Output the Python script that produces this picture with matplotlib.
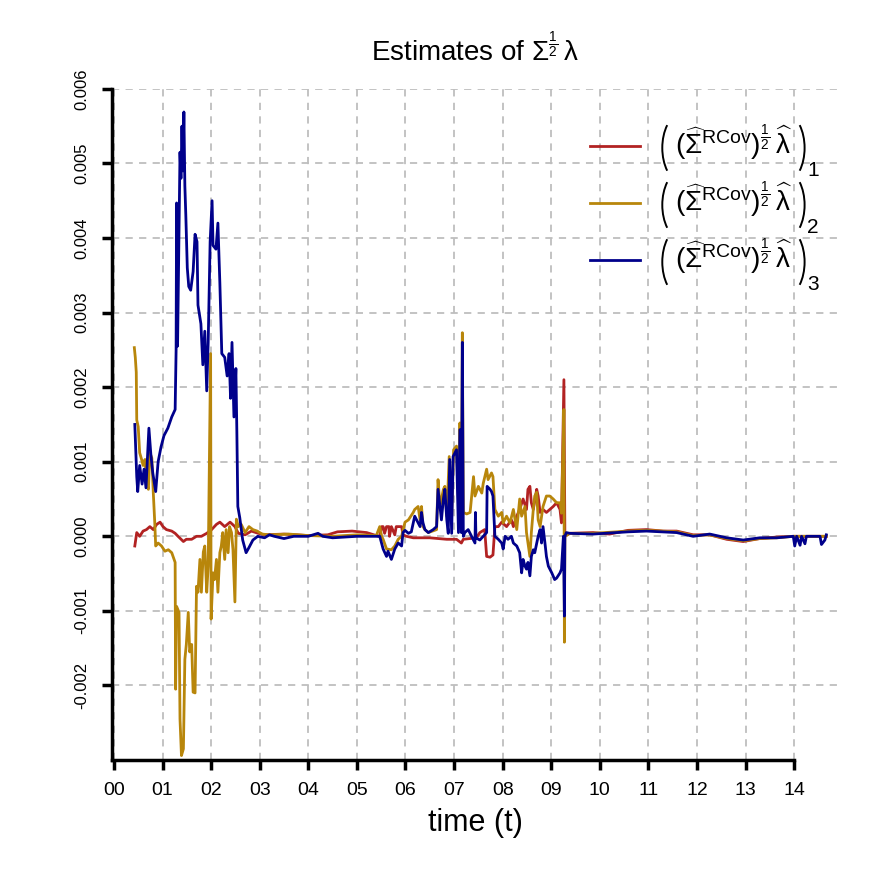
import numpy as np
import matplotlib
matplotlib.use("Agg")
import matplotlib.pyplot as plt
from matplotlib.patches import Arc

plt.rcParams['font.family'] = ['Liberation Sans', 'DejaVu Sans']
plt.rcParams['mathtext.fontset'] = 'custom'
plt.rcParams['mathtext.rm'] = 'Liberation Sans'
plt.rcParams['mathtext.it'] = 'Liberation Sans:italic'
plt.rcParams['mathtext.bf'] = 'Liberation Sans:bold'

# values: time in hours, estimates in units of 1e-3
red_t = [0.43, 0.47, 0.53, 0.60, 0.67, 0.74, 0.81, 0.88, 0.95, 1.01, 1.08, 1.19, 1.26, 1.32, 1.43,
         1.49, 1.60, 1.70, 1.80, 1.91, 2.01, 2.11, 2.18, 2.28, 2.39, 2.49, 2.56, 2.70, 2.83, 2.97,
         3.11, 3.50, 4.00, 4.40, 4.60, 4.90, 5.20, 5.45, 5.47, 5.51, 5.54, 5.57, 5.61, 5.66, 5.67,
         5.71, 5.78, 5.81, 5.92, 5.95, 6.02, 6.16, 6.50, 6.85, 7.05, 7.15, 7.19, 7.46, 7.53, 7.63,
         7.67, 7.74, 7.80, 7.84, 7.91, 7.98, 8.08, 8.18, 8.22, 8.29, 8.35, 8.42, 8.49, 8.52, 8.56,
         8.59, 8.63, 8.70, 8.73, 8.77, 8.83, 8.90, 8.97, 9.04, 9.11, 9.18, 9.21, 9.26, 9.28, 9.38,
         9.86, 10.20, 10.58, 10.96, 11.30, 11.58, 11.92, 12.26, 12.61, 12.95, 13.29, 13.64, 13.98,
         14.30, 14.66]
red_v = [-0.13, 0.05, 0.00, 0.07, 0.09, 0.13, 0.09, 0.16, 0.19, 0.13, 0.09, 0.07, 0.04, 0.00, -0.07,
         -0.04, -0.04, 0.00, 0.00, 0.04, 0.09, 0.16, 0.19, 0.13, 0.19, 0.13, 0.04, 0.02, 0.07, 0.04,
         0.02, 0.03, 0.01, 0.02, 0.06, 0.07, 0.05, 0.00, 0.00, 0.13, 0.13, 0.04, 0.13, 0.13, 0.00,
         0.13, 0.02, 0.13, 0.13, 0.02, 0.00, -0.02, -0.02, -0.04, -0.04, -0.09, -0.04, -0.02, 0.05, 0.09,
         -0.27, -0.28, -0.25, 0.13, 0.13, 0.19, 0.13, 0.22, 0.13, 0.27, 0.36, 0.50, 0.36, 0.63, 0.67,
         0.45, 0.36, 0.63, 0.54, 0.32, 0.36, 0.32, 0.36, 0.40, 0.45, 0.36, 0.18, 2.10, 0.00, 0.04,
         0.05, 0.03, 0.08, 0.09, 0.07, 0.07, 0.02, 0.02, -0.04, -0.07, -0.03, -0.01, 0.00,
         0.00, 0.00]

yel_t = [0.42, 0.44, 0.46, 0.47, 0.50, 0.53, 0.57, 0.60, 0.64, 0.67, 0.71, 0.74, 0.78, 0.81, 0.84,
         0.86, 0.91, 0.98, 1.05, 1.12, 1.19, 1.26, 1.27, 1.29, 1.34, 1.36, 1.39, 1.43, 1.46, 1.49,
         1.53, 1.56, 1.60, 1.63, 1.67, 1.70, 1.73, 1.77, 1.80, 1.84, 1.87, 1.91, 1.94, 1.99, 2.00,
         2.04, 2.07, 2.11, 2.14, 2.18, 2.21, 2.24, 2.28, 2.31, 2.35, 2.38, 2.42, 2.45, 2.49, 2.52,
         2.56, 2.62, 2.70, 2.78, 2.86, 2.95, 3.05, 3.20, 3.60, 4.00, 4.50, 5.00, 5.40, 5.47, 5.51,
         5.54, 5.61, 5.71, 5.78, 5.85, 5.92, 5.99, 6.06, 6.16, 6.19, 6.26, 6.30, 6.33, 6.36, 6.40,
         6.47, 6.64, 6.67, 6.71, 6.78, 6.81, 6.85, 6.90, 6.95, 6.99, 7.05, 7.10, 7.12, 7.15, 7.17,
         7.19, 7.26, 7.33, 7.40, 7.43, 7.50, 7.57, 7.60, 7.67, 7.70, 7.77, 7.80, 7.84, 7.91, 7.98,
         8.01, 8.08, 8.15, 8.22, 8.29, 8.35, 8.39, 8.46, 8.49, 8.52, 8.56, 8.59, 8.63, 8.66, 8.70,
         8.73, 8.77, 8.83, 8.90, 8.97, 9.04, 9.11, 9.18, 9.21, 9.26, 9.27, 9.28, 9.38, 9.86, 10.58,
         10.96, 11.58, 11.92, 12.26, 12.61, 12.95, 13.29, 13.64, 13.98, 14.30, 14.66]
yel_v = [2.53, 2.40, 2.20, 1.56, 1.47, 1.12, 1.03, 0.95, 1.03, 0.72, 0.63, 1.12, 1.05, 0.59, 0.19,
         -0.13, -0.09, -0.13, -0.20, -0.18, -0.22, -0.35, -2.05, -0.94, -1.02, -2.45, -2.94, -2.85, -1.65, -1.45,
         -1.02, -1.55, -1.45, -2.09, -2.10, -0.67, -0.75, -0.31, -0.75, -0.21, -0.13, -0.75, -0.40, 2.45, -1.11,
         -0.49, -0.58, -0.31, -0.75, -0.22, -0.13, 0.05, -0.31, 0.09, -0.22, 0.13, 0.05, -0.18, -0.88, 0.23,
         0.13, 0.16, 0.05, 0.13, 0.09, 0.07, 0.03, 0.02, 0.03, 0.01, 0.00, 0.02, 0.01, 0.13, 0.00,
         -0.04, -0.17, -0.18, -0.13, -0.04, 0.00, 0.19, 0.22, 0.32, 0.36, 0.40, 0.22, 0.40, 0.13, 0.09,
         0.05, 0.09, 0.76, 0.40, 0.63, 0.67, 0.27, 1.07, 0.27, 1.16, 1.21, 0.27, 1.52, 0.27, 2.73,
         0.32, 0.30, 0.32, 0.80, 0.54, 0.67, 0.58, 0.71, 0.90, 0.76, 0.85, 0.80, 0.36, 0.27, 0.32,
         0.18, 0.27, 0.18, 0.36, 0.09, 0.50, 0.27, 0.40, 0.05, -0.09, -0.27, 0.05, 0.36, 0.54, 0.59,
         0.22, 0.13, 0.40, 0.54, 0.54, 0.50, 0.45, 0.45, 0.31, 1.70, -1.42, 0.00, 0.04, 0.04, 0.07,
         0.08, 0.06, 0.01, 0.02, -0.03, -0.06, -0.03, -0.02, 0.00, 0.00, 0.00]

blu_t = [0.43, 0.47, 0.49, 0.53, 0.58, 0.62, 0.66, 0.72, 0.76, 0.80, 0.86, 0.91, 0.97, 1.03, 1.11,
         1.19, 1.26, 1.28, 1.29, 1.31, 1.34, 1.36, 1.38, 1.40, 1.42, 1.44, 1.46, 1.48, 1.51, 1.54,
         1.58, 1.63, 1.67, 1.71, 1.73, 1.79, 1.83, 1.87, 1.91, 1.94, 1.98, 2.02, 2.04, 2.10, 2.14,
         2.18, 2.22, 2.28, 2.33, 2.37, 2.40, 2.43, 2.47, 2.51, 2.53, 2.55, 2.59, 2.65, 2.72, 2.78,
         2.86, 2.96, 3.10, 3.20, 3.30, 3.50, 3.70, 4.00, 4.20, 4.30, 4.50, 5.00, 5.47, 5.54, 5.61,
         5.64, 5.71, 5.78, 5.85, 5.92, 5.95, 5.99, 6.06, 6.12, 6.19, 6.26, 6.30, 6.33, 6.36, 6.40,
         6.47, 6.57, 6.64, 6.67, 6.71, 6.74, 6.78, 6.81, 6.85, 6.88, 6.91, 6.95, 6.98, 7.02, 7.05,
         7.09, 7.12, 7.15, 7.17, 7.19, 7.22, 7.29, 7.36, 7.43, 7.44, 7.45, 7.53, 7.60, 7.67, 7.68,
         7.74, 7.77, 7.80, 7.84, 7.91, 7.98, 8.01, 8.05, 8.11, 8.18, 8.22, 8.29, 8.35, 8.39, 8.42,
         8.46, 8.49, 8.52, 8.56, 8.59, 8.63, 8.66, 8.70, 8.73, 8.77, 8.80, 8.83, 8.87, 8.90, 8.94,
         9.01, 9.07, 9.11, 9.18, 9.21, 9.25, 9.27, 9.28, 9.31, 9.38, 9.86, 10.58, 10.96, 11.58, 11.92,
         12.26, 12.61, 12.95, 13.29, 13.64, 13.98, 14.01, 14.05, 14.12, 14.15, 14.22, 14.25, 14.53, 14.56, 14.63,
         14.66]
blu_v = [1.50, 0.80, 0.60, 0.95, 0.70, 0.90, 0.65, 1.45, 1.10, 0.85, 0.60, 1.00, 1.20, 1.35, 1.45,
         1.60, 1.70, 2.50, 4.47, 2.55, 4.10, 5.15, 4.80, 5.50, 4.90, 5.69, 4.70, 4.30, 3.60, 3.35,
         3.30, 3.55, 4.05, 3.95, 3.10, 2.85, 2.30, 2.75, 1.95, 2.60, 3.95, 4.50, 3.90, 3.85, 4.20,
         3.40, 2.45, 2.40, 2.15, 2.45, 1.85, 2.60, 1.60, 2.25, 1.40, 0.40, 0.25, -0.05, -0.22, -0.15,
         -0.05, 0.00, -0.02, 0.02, 0.00, -0.03, 0.00, 0.00, 0.04, 0.00, -0.02, 0.00, 0.00, -0.17, -0.27,
         -0.20, -0.31, -0.17, -0.09, -0.13, 0.05, 0.08, 0.04, 0.06, 0.27, 0.18, 0.13, 0.32, 0.18, 0.09,
         0.05, 0.09, 0.13, 0.63, 0.40, 0.22, 0.50, 0.63, 0.22, 0.04, 1.03, 0.04, 1.07, 1.12, 1.16,
         0.05, 1.43, 0.05, 2.60, 0.00, 0.05, 0.09, 0.00, -0.09, 0.32, -0.02, -0.05, 0.00, 0.05, 0.67,
         0.63, 0.60, 0.54, 0.00, -0.04, -0.09, -0.17, 0.00, -0.04, 0.00, -0.09, -0.13, -0.22, -0.49, -0.31,
         -0.40, -0.44, -0.35, -0.53, -0.27, -0.18, -0.22, -0.09, 0.00, 0.09, -0.09, 0.13, -0.09, -0.27, -0.40,
         -0.49, -0.58, -0.56, -0.49, -0.44, 0.00, -1.07, 0.00, 0.05, 0.04, 0.03, 0.06, 0.07, 0.05, 0.00,
         0.03, -0.02, -0.05, -0.02, -0.02, 0.00, -0.13, 0.00, -0.12, 0.00, -0.10, 0.00, 0.00, -0.11, -0.05,
         0.02]

hour_labels = ["%02d" % h for h in range(15)]
y_ticks = [-0.002, -0.001, 0.000, 0.001, 0.002, 0.003, 0.004, 0.005, 0.006]
colors = ["#B22222", "#B8860B", "#00008B"]

fig = plt.figure(figsize=(8.72, 8.72), dpi=100)
ax = fig.add_axes([0.1284, 0.1284, 0.8326, 0.7697])

ax.plot(red_t, np.array(red_v) * 1e-3, color=colors[0], lw=2)
ax.plot(yel_t, np.array(yel_v) * 1e-3, color=colors[1], lw=2)
ax.plot(blu_t, np.array(blu_v) * 1e-3, color=colors[2], lw=2)

ax.set_xlim(-0.04, 14.9)
ax.set_ylim(-0.003, 0.006)
ax.set_xticks(range(15))
ax.set_xticklabels(hour_labels, fontsize=14)
ax.set_yticks(y_ticks)
ax.set_yticklabels(["%.3f" % v for v in y_ticks], fontsize=12, rotation=90, va="center")

for v in range(15):
    ax.axvline(v, color="#BEBEBE", lw=1.3, ls=(0, (4, 3.5)), zorder=0)
for v in y_ticks:
    ax.axhline(v, color="#BEBEBE", lw=1.3, ls=(0, (4, 3.5)), zorder=0)

for s in ["top", "right"]:
    ax.spines[s].set_visible(False)
ax.spines["left"].set_linewidth(2.5)
ax.spines["bottom"].set_linewidth(2.5)
ax.spines["bottom"].set_bounds(-0.04, 14)
ax.tick_params(axis="both", width=2.5, length=7)
ax.tick_params(axis="x", pad=9)
ax.tick_params(axis="y", pad=9)

ax.set_title(r"Estimates of $\Sigma^{\frac{1}{2}}\,\mathrm{\lambda}$", fontsize=20, pad=20)
ax.set_xlabel("time (t)", fontsize=22, labelpad=6)

# legend drawn by hand so the outer parentheses can be tall, as in the original
inner = r"$(\widehat{\Sigma}^{\mathrm{RCov}})^{\frac{1}{2}}\,\widehat{\mathrm{\lambda}}$"
leg_y = [0.915, 0.830, 0.745]
for i in range(3):
    y = leg_y[i]
    ax.plot([0.658, 0.727], [y, y], transform=ax.transAxes, color=colors[i], lw=2, clip_on=False)
    ax.add_patch(Arc((0.786, y - 0.003), 0.056, 0.104, theta1=122, theta2=238,
                     transform=ax.transAxes, color="black", lw=1.4, clip_on=False))
    ax.text(0.776, y + 0.004, inner, transform=ax.transAxes, fontsize=20, va="center", ha="left")
    ax.add_patch(Arc((0.926, y - 0.003), 0.056, 0.104, theta1=-58, theta2=58,
                     transform=ax.transAxes, color="black", lw=1.4, clip_on=False))
    ax.text(0.958, y - 0.036, str(i + 1), transform=ax.transAxes, fontsize=15, va="center", ha="left")

plt.savefig("out.png", dpi=100)
